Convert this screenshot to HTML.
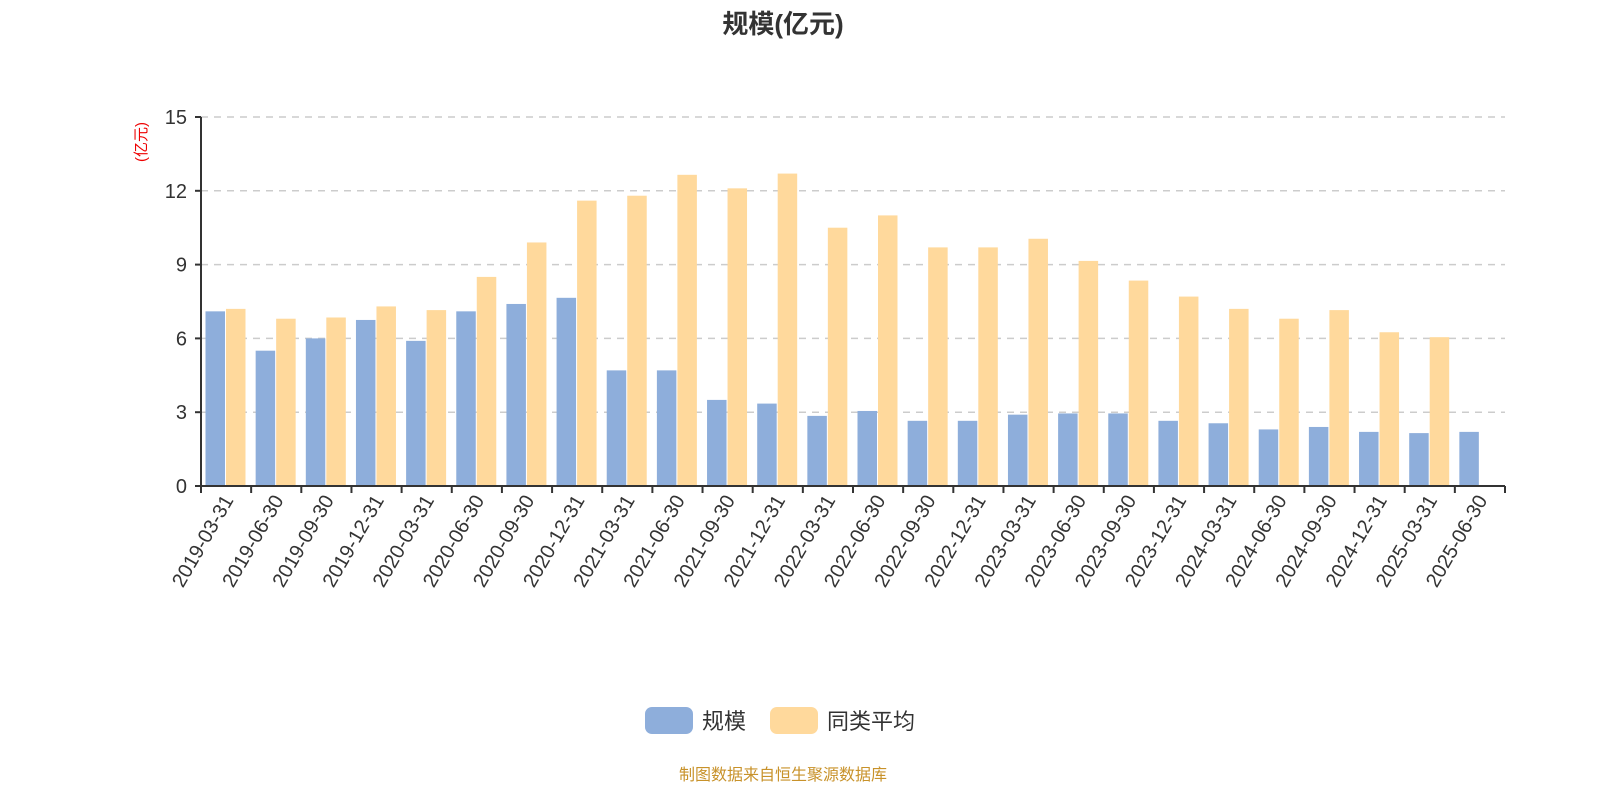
<!DOCTYPE html>
<html><head><meta charset="utf-8"><style>
body{margin:0;background:#fff;}
svg{display:block;font-family:"Liberation Sans","Noto Sans CJK SC",sans-serif;}
</style></head><body>
<svg id="chart" width="1600" height="800">
<text x="783" y="33" text-anchor="middle" font-size="26" font-weight="bold" fill="#333">规模(亿元)</text>
<text transform="translate(146,142) rotate(-90)" text-anchor="middle" font-size="15" fill="#e00">(亿元)</text>
<g id="grid"></g><g id="bars"></g><g id="axes"></g>
<g>
<rect x="645" y="707" width="48" height="27" rx="7" fill="#8eaedb"/>
<text x="702" y="729" font-size="22" fill="#333">规模</text>
<rect x="770" y="707" width="48" height="27" rx="7" fill="#ffd99c"/>
<text x="827" y="729" font-size="22" fill="#333">同类平均</text>
</g>
<text x="783" y="780" text-anchor="middle" font-size="16" fill="#c8922a">制图数据来自恒生聚源数据库</text>
</svg>
<script>
const categories=["2019-03-31","2019-06-30","2019-09-30","2019-12-31","2020-03-31","2020-06-30","2020-09-30","2020-12-31","2021-03-31","2021-06-30","2021-09-30","2021-12-31","2022-03-31","2022-06-30","2022-09-30","2022-12-31","2023-03-31","2023-06-30","2023-09-30","2023-12-31","2024-03-31","2024-06-30","2024-09-30","2024-12-31","2025-03-31","2025-06-30"];
const scaleValues=[7.1,5.5,6.0,6.75,5.9,7.1,7.4,7.65,4.7,4.7,3.5,3.35,2.85,3.05,2.65,2.65,2.9,2.95,2.95,2.65,2.55,2.3,2.4,2.2,2.15,2.2];
const avgValues=[7.2,6.8,6.85,7.3,7.15,8.5,9.9,11.6,11.8,12.65,12.1,12.7,10.5,11.0,9.7,9.7,10.05,9.15,8.35,7.7,7.2,6.8,7.15,6.25,6.05,null];
const yTicks=[0,3,6,9,12,15];
const NS="http://www.w3.org/2000/svg";
const X0=201,X1=1505,Y0=486,Y1=117,YMAX=15;
const band=(X1-X0)/categories.length;
function y(v){return Y0-(v/YMAX)*(Y0-Y1);}
function x(i){return X0+i*band;}
function mk(t,a,p){const e=document.createElementNS(NS,t);for(const k in a)e.setAttribute(k,a[k]);p.appendChild(e);return e;}
const grid=document.getElementById('grid'),bars=document.getElementById('bars'),axes=document.getElementById('axes');
yTicks.forEach(t=>{
  if(t>0){const l=mk('line',{x1:X0,x2:X1,y1:y(t),y2:y(t),stroke:'#ccc','stroke-width':1.5,'stroke-dasharray':'7,6'},grid);
  
  }
  const tk=mk('line',{x1:X0-6,x2:X0,y1:y(t),y2:y(t),stroke:'#333','stroke-width':2},axes);
  
  
  const tx=mk('text',{x:X0-14,y:y(t)+7,'text-anchor':'end','font-size':20,fill:'#333'},axes);
  tx.textContent=t;
  
  
});
const bw=19.5;
categories.forEach((c,i)=>{
  const v1=scaleValues[i];
  if(v1!=null){const r=mk('rect',{x:x(i)+4.5,y:y(v1),width:bw,height:Y0-y(v1),fill:'#8eaedb'},bars);
  
  }
  const v2=avgValues[i];
  if(v2!=null){const r=mk('rect',{x:x(i)+4.5+bw+1,y:y(v2),width:bw,height:Y0-y(v2),fill:'#ffd99c'},bars);
  
  }
  const tk=mk('line',{x1:x(i),x2:x(i),y1:Y0,y2:Y0+7,stroke:'#333','stroke-width':2},axes);
  
  
  const cx=x(i)+band/2;
  const tx=mk('text',{x:0,y:0,'text-anchor':'end','font-size':20,fill:'#333',transform:`translate(${cx+8},${Y0+14}) rotate(-60)`},axes);
  tx.textContent=c;
  
  
});
const lastTk=mk('line',{x1:X1,x2:X1,y1:Y0,y2:Y0+7,stroke:'#333','stroke-width':2},axes);


const ya=mk('line',{x1:X0,x2:X0,y1:Y1,y2:Y0,stroke:'#333','stroke-width':2},axes);


const xa=mk('line',{x1:X0,x2:X1,y1:Y0,y2:Y0,stroke:'#333','stroke-width':2},axes);


</script>
</body></html>
